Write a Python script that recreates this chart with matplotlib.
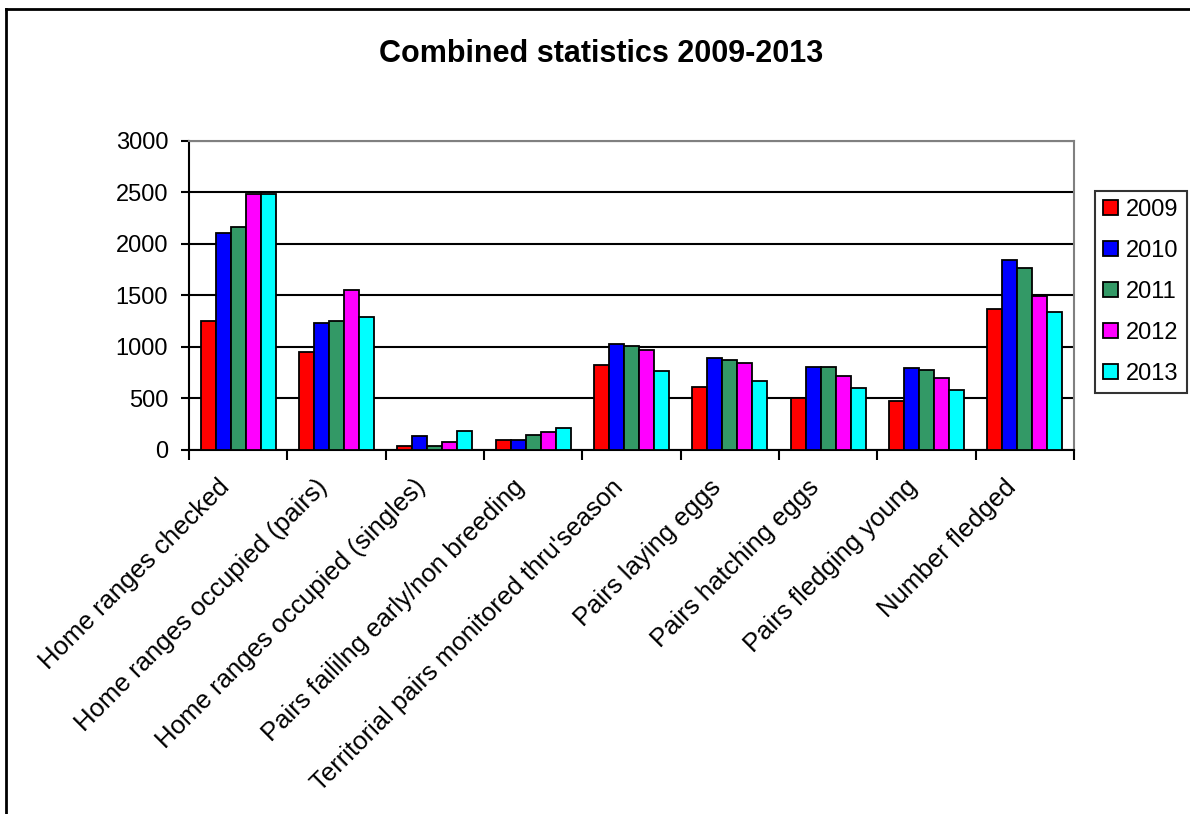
import matplotlib
matplotlib.use("Agg")
import matplotlib.pyplot as plt
import numpy as np
from matplotlib.lines import Line2D

plt.rcParams['font.family'] = ['Liberation Sans', 'DejaVu Sans']

categories = ['Home ranges checked', 'Home ranges occupied (pairs)',
              'Home ranges occupied (singles)', 'Pairs faililng early/non breeding',
              "Territorial pairs monitored thru'season", 'Pairs laying eggs',
              'Pairs hatching eggs', 'Pairs fledging young', 'Number fledged']
years = ['2009', '2010', '2011', '2012', '2013']
v2009 = [1250, 949, 39, 95, 823, 611, 508, 473, 1364]
v2010 = [2106, 1234, 133, 95, 1029, 895, 810, 793, 1840]
v2011 = [2164, 1250, 40, 150, 1010, 876, 810, 774, 1762]
v2012 = [2485, 1555, 75, 170, 970, 840, 716, 700, 1493]
v2013 = [2485, 1289, 188, 209, 765, 667, 602, 586, 1344]
series = [v2009, v2010, v2011, v2012, v2013]
colors = ['#FF0000', '#0000FF', '#339966', '#FF00FF', '#00FFFF']

fig = plt.figure(figsize=(11.9, 8.14), dpi=100)
ax = fig.add_axes([0.1588, 0.4472, 0.9025 - 0.1588, 0.8268 - 0.4472])

x = np.arange(len(categories))
w = 0.152
for i, (vals, c) in enumerate(zip(series, colors)):
    ax.bar(x + (i - 2) * w, vals, w, color=c, edgecolor='black', linewidth=1.3,
           label=years[i], zorder=3)

ax.set_xlim(-0.5, len(categories) - 0.5)
ax.set_ylim(0, 3000)
ax.set_yticks(np.arange(0, 3001, 500))
ax.yaxis.grid(True, color='black', linewidth=1.5, zorder=0)
ax.set_axisbelow(True)

# labels sit a little left of the group centre, as in the original
ax.set_xticks(x - 0.04)
ax.set_xticklabels(categories, rotation=45, ha='right', va='top')
ax.set_xticks(np.arange(-0.5, len(categories)), minor=True)
ax.tick_params(axis='x', which='major', length=0, pad=18, labelsize=18.5)
ax.tick_params(axis='x', which='minor', length=7, width=1.5, direction='out')
ax.tick_params(axis='y', length=6, width=1.5, labelsize=17, pad=9)

for s in ['left', 'bottom']:
    ax.spines[s].set_linewidth(1.5)
    ax.spines[s].set_color('black')
for s in ['top', 'right']:
    ax.spines[s].set_linewidth(1.5)
    ax.spines[s].set_color('#808080')

fig.text(0.505, 1 - 54 / 814, 'Combined statistics 2009-2013', ha='center', va='center',
         fontsize=22, fontweight='bold')

leg = ax.legend(loc='upper left', bbox_to_anchor=(1.024, 0.838), fontsize=17,
                frameon=True, fancybox=False, edgecolor='black', handlelength=0.6,
                handleheight=0.6, handletextpad=0.35, labelspacing=0.8,
                borderpad=0.35, borderaxespad=0)
leg.get_frame().set_linewidth(1.5)

# outer chart frame (left and top edges visible)
fig.add_artist(Line2D([6 / 1190, 6 / 1190], [0, 1 - 8.5 / 814], color='black',
                      linewidth=2, transform=fig.transFigure))
fig.add_artist(Line2D([6 / 1190, 1], [1 - 8.5 / 814, 1 - 8.5 / 814], color='black',
                      linewidth=2, transform=fig.transFigure))

fig.savefig('out.png', dpi=100)
